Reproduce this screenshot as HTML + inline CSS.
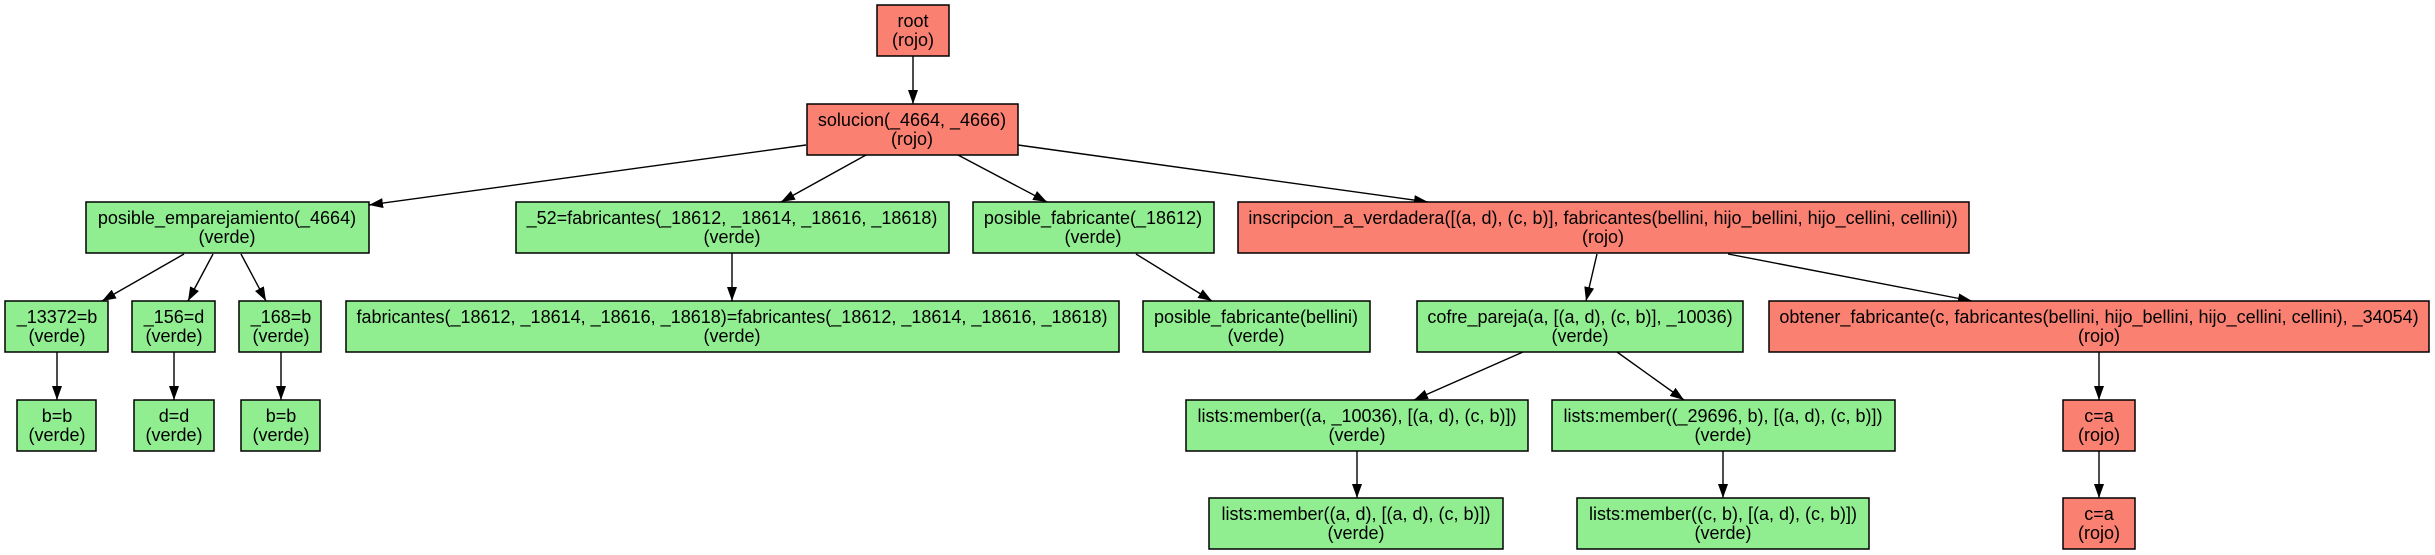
<!DOCTYPE html>
<html><head><meta charset="utf-8"><style>
html,body{margin:0;padding:0;background:#fff;}
svg{display:block;}
text{font-family:"Liberation Sans",Arial,sans-serif;font-size:18px;fill:#000;text-anchor:middle;}
.r{fill:#fa8072;stroke:#000;stroke-width:1.5;}
.g{fill:#90ee90;stroke:#000;stroke-width:1.5;}
line{stroke:#000;stroke-width:1.4;marker-end:url(#a);}
</style></head><body>
<svg width="2435" height="555" viewBox="0 0 2435 555" xmlns="http://www.w3.org/2000/svg">
<defs><marker id="a" markerWidth="14" markerHeight="10" refX="14" refY="5" orient="auto" markerUnits="userSpaceOnUse"><path d="M0,0 L14,5 L0,10 z" fill="#000"/></marker></defs>

<!-- edges -->
<line x1="913" y1="56" x2="913" y2="104"/>
<line x1="806" y1="145" x2="369" y2="205"/>
<line x1="866" y1="155" x2="781" y2="202"/>
<line x1="958" y1="155" x2="1047" y2="202"/>
<line x1="1018" y1="145" x2="1428" y2="202"/>
<line x1="184" y1="254" x2="102" y2="301"/>
<line x1="213" y1="254" x2="188" y2="301"/>
<line x1="241" y1="254" x2="266" y2="301"/>
<line x1="732" y1="253" x2="732" y2="301"/>
<line x1="1136" y1="254" x2="1212" y2="301"/>
<line x1="1597" y1="254" x2="1586" y2="301"/>
<line x1="1728" y1="254" x2="1972" y2="301"/>
<line x1="1523" y1="352" x2="1414" y2="400"/>
<line x1="1617" y1="352" x2="1684" y2="400"/>
<line x1="2099" y1="352" x2="2099" y2="400"/>
<line x1="57" y1="352" x2="57" y2="400"/>
<line x1="174" y1="352" x2="174" y2="400"/>
<line x1="281" y1="352" x2="281" y2="400"/>
<line x1="1357" y1="451" x2="1357" y2="498"/>
<line x1="1723" y1="451" x2="1723" y2="498"/>
<line x1="2099" y1="451" x2="2099" y2="498"/>

<!-- nodes -->
<rect class="r" x="877" y="5" width="72" height="51"/>
<text x="913" y="27">root</text><text x="913" y="46">(rojo)</text>

<rect class="r" x="807" y="104" width="211" height="51"/>
<text x="912" y="126">solucion(_4664, _4666)</text><text x="912" y="145">(rojo)</text>

<rect class="g" x="86" y="202" width="283" height="51"/>
<text x="227" y="224">posible_emparejamiento(_4664)</text><text x="227" y="243">(verde)</text>

<rect class="g" x="516" y="202" width="433" height="51"/>
<text x="732" y="224">_52=fabricantes(_18612, _18614, _18616, _18618)</text><text x="732" y="243">(verde)</text>

<rect class="g" x="973" y="202" width="241" height="51"/>
<text x="1093" y="224">posible_fabricante(_18612)</text><text x="1093" y="243">(verde)</text>

<rect class="r" x="1238" y="202" width="731" height="51"/>
<text x="1603" y="224">inscripcion_a_verdadera([(a, d), (c, b)], fabricantes(bellini, hijo_bellini, hijo_cellini, cellini))</text><text x="1603" y="243">(rojo)</text>

<rect class="g" x="5" y="301" width="103" height="51"/>
<text x="57" y="323">_13372=b</text><text x="57" y="342">(verde)</text>

<rect class="g" x="132" y="301" width="83" height="51"/>
<text x="174" y="323">_156=d</text><text x="174" y="342">(verde)</text>

<rect class="g" x="239" y="301" width="82" height="51"/>
<text x="281" y="323">_168=b</text><text x="281" y="342">(verde)</text>

<rect class="g" x="346" y="301" width="773" height="51"/>
<text x="732" y="323">fabricantes(_18612, _18614, _18616, _18618)=fabricantes(_18612, _18614, _18616, _18618)</text><text x="732" y="342">(verde)</text>

<rect class="g" x="1143" y="301" width="227" height="51"/>
<text x="1256" y="323">posible_fabricante(bellini)</text><text x="1256" y="342">(verde)</text>

<rect class="g" x="1417" y="301" width="326" height="51"/>
<text x="1580" y="323">cofre_pareja(a, [(a, d), (c, b)], _10036)</text><text x="1580" y="342">(verde)</text>

<rect class="r" x="1769" y="301" width="660" height="51"/>
<text x="2099" y="323">obtener_fabricante(c, fabricantes(bellini, hijo_bellini, hijo_cellini, cellini), _34054)</text><text x="2099" y="342">(rojo)</text>

<rect class="g" x="17" y="400" width="79" height="51"/>
<text x="57" y="422">b=b</text><text x="57" y="441">(verde)</text>

<rect class="g" x="134" y="400" width="80" height="51"/>
<text x="174" y="422">d=d</text><text x="174" y="441">(verde)</text>

<rect class="g" x="241" y="400" width="79" height="51"/>
<text x="281" y="422">b=b</text><text x="281" y="441">(verde)</text>

<rect class="g" x="1186" y="400" width="342" height="51"/>
<text x="1357" y="422">lists:member((a, _10036), [(a, d), (c, b)])</text><text x="1357" y="441">(verde)</text>

<rect class="g" x="1552" y="400" width="343" height="51"/>
<text x="1723" y="422">lists:member((_29696, b), [(a, d), (c, b)])</text><text x="1723" y="441">(verde)</text>

<rect class="r" x="2063" y="400" width="72" height="51"/>
<text x="2099" y="422">c=a</text><text x="2099" y="441">(rojo)</text>

<rect class="g" x="1209" y="498" width="294" height="51"/>
<text x="1356" y="520">lists:member((a, d), [(a, d), (c, b)])</text><text x="1356" y="539">(verde)</text>

<rect class="g" x="1577" y="498" width="292" height="51"/>
<text x="1723" y="520">lists:member((c, b), [(a, d), (c, b)])</text><text x="1723" y="539">(verde)</text>

<rect class="r" x="2063" y="498" width="72" height="51"/>
<text x="2099" y="520">c=a</text><text x="2099" y="539">(rojo)</text>
</svg>
</body></html>
